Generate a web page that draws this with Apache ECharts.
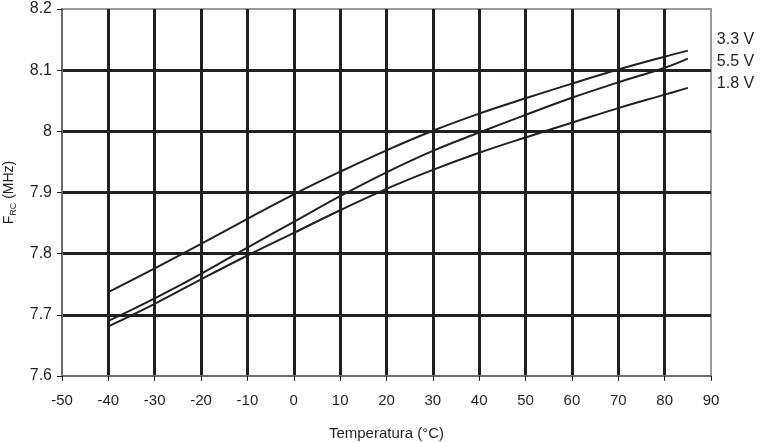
<!DOCTYPE html>
<html>
<head>
<meta charset="utf-8">
<script src="https://cdn.jsdelivr.net/npm/echarts@6/dist/echarts.min.js"></script>
<style>
  html, body { margin: 0; padding: 0; background: #fff; }
  #chart { width: 766px; height: 442px; }
</style>
</head>
<body>
<div id="chart"></div>
<script>
// temperatura (°C)
var temps = [-40, -30, -20, -10, 0, 10, 20, 30, 40, 50, 60, 70, 80, 85];
// frecuencia RC (MHz) por tension
var v33 = [7.737, 7.776, 7.816, 7.857, 7.897, 7.934, 7.969, 8.001, 8.029, 8.054, 8.078, 8.101, 8.122, 8.132];
var v55 = [7.690, 7.727, 7.767, 7.810, 7.852, 7.894, 7.933, 7.968, 7.998, 8.027, 8.055, 8.080, 8.104, 8.119];
var v18 = [7.681, 7.718, 7.758, 7.797, 7.834, 7.871, 7.906, 7.937, 7.965, 7.990, 8.014, 8.038, 8.060, 8.071];
var seriesNames = ["3.3 V", "5.5 V", "1.8 V"];
var labelOffsets = [[21, -11], [21, 3], [21, -4]];

var chart = echarts.init(document.getElementById("chart"));

function pairs(vals) {
  var out = [];
  for (var i = 0; i < temps.length; i++) {
    out.push([temps[i], vals[i]]);
  }
  return out;
}

var allVals = [v33, v55, v18];
var seriesData = [];
for (var i = 0; i < allVals.length; i++) {
  seriesData.push({
    name: seriesNames[i],
    type: "line",
    smooth: 0.4,
    symbol: "none",
    data: pairs(allVals[i]),
    lineStyle: { color: "#231f20", width: 2 },
    endLabel: {
      show: true,
      formatter: "{a}",
      offset: labelOffsets[i],
      color: "#231f20",
      fontSize: 16,
      fontFamily: "Liberation Sans"
    },
    z: 5
  });
}

var option = {
  animation: false,
  textStyle: { fontFamily: "Liberation Sans" },
  grid: {
    left: 62,
    right: 55,
    top: 9,
    bottom: 66,
    containLabel: false,
    outerBoundsMode: "none",
    show: true,
    borderColor: "#9a9a9a",
    borderWidth: 2
  },
  xAxis: {
    type: "value",
    min: -50,
    max: 90,
    interval: 10,
    name: "Temperatura (°C)",
    nameLocation: "middle",
    nameGap: 50,
    nameTextStyle: { color: "#231f20", fontSize: 15 },
    axisLine: { show: true, onZero: false, lineStyle: { color: "#6d6d6d", width: 2 } },
    axisTick: { show: true, length: 5, lineStyle: { color: "#231f20" } },
    axisLabel: { color: "#231f20", fontSize: 15, margin: 17 },
    splitLine: {
      show: true,
      showMinLine: false,
      showMaxLine: false,
      lineStyle: { color: "#231f20", width: 3 }
    }
  },
  yAxis: {
    type: "value",
    min: 7.6,
    max: 8.2,
    interval: 0.1,
    name: "{a|F}{b|RC}{a| (MHz)}",
    nameLocation: "middle",
    nameGap: 44,
    nameTextStyle: {
      color: "#231f20",
      rich: {
        a: { fontSize: 14, color: "#231f20" },
        b: { fontSize: 9, color: "#231f20", padding: [8, 0, 0, 0] }
      }
    },
    axisLine: { show: true, onZero: false, lineStyle: { color: "#6d6d6d", width: 2 } },
    axisTick: { show: true, length: 5, lineStyle: { color: "#231f20" } },
    axisLabel: {
      color: "#231f20",
      fontSize: 16,
      margin: 10,
      formatter: function (v) {
        return String(Math.round(v * 10) / 10);
      }
    },
    splitLine: {
      show: true,
      showMinLine: false,
      showMaxLine: false,
      lineStyle: { color: "#231f20", width: 3 }
    }
  },
  series: seriesData
};

chart.setOption(option);
window.addEventListener("resize", function () {
  chart.resize();
});
</script>
</body>
</html>
